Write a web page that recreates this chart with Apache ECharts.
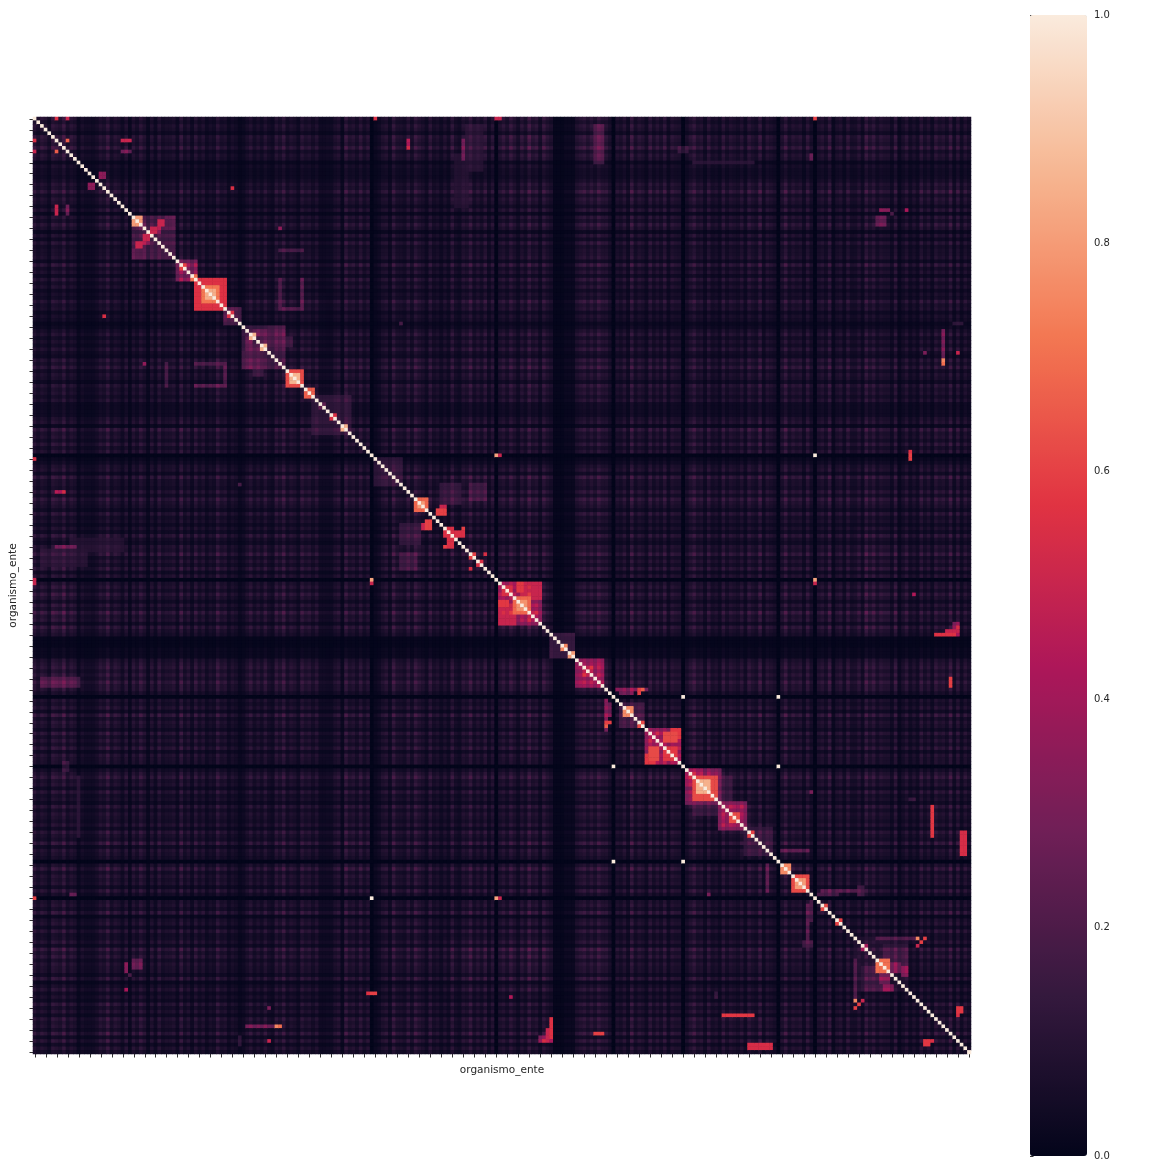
<!DOCTYPE html>
<html><head><meta charset="utf-8">
<style>html,body{margin:0;padding:0;background:#fff}#c{width:1172px;height:1165px;filter:blur(0.6px)}</style>
<script src="https://cdn.jsdelivr.net/npm/echarts@6/dist/echarts.min.js"></script>
</head><body><div id="c"></div>
<script>
const N = 256;
const organismos = Array.from({length:N},(_,i)=>String(i));
const axisName = 'organismo_ente';
const colorTicks = [0,0.2,0.4,0.6,0.8,1];
const rocket = ['#03051a','#35193e','#701f57','#ad1759','#e13342','#f37651','#f6b48f','#faebdd'];

// Brightness of each row/column (0 black stripe ... 9 bright)
const stripeLevels = [
 '6465376584652433','3465846536264752','6374556384637463','5485635423574647',
 '4375846537564633','3356285647460235','6385547486537453','5374365846473605',
 '6475364856375411','1222567575866405','4638465374647365','5046856374537465',
 '4637548365405846','5637405648256374','4638574655372463','5374637564837364'];

// Background level (hundredths) per 16-cell region, lower triangle
const regionLevels = [
 [12],[10,11],[9,9,10],[8,8,9,9],[9,9,9,10,10],[10,10,10,9,10,10],[10,9,9,9,10,10,10],
 [11,10,10,10,10,10,11,11],[13,11,10,10,11,10,11,11,12],[11,11,10,10,10,9,10,10,11,11],
 [11,11,10,9,10,10,10,10,11,10,11],[10,10,9,9,9,10,10,10,10,10,11,11],
 [10,11,10,9,10,11,10,10,11,10,11,10,11],[10,10,9,9,10,10,10,10,11,10,10,10,10,10],
 [11,10,10,9,10,10,10,12,13,11,10,10,10,10,11],[10,11,9,9,9,10,10,10,10,10,10,10,10,10,10,10]];

// Square clusters on the diagonal: [first, last, value]
const clusters = [
 [27,38,.2],[27,29,.8],[39,44,.34],[40,41,.6],[43,44,.7],
 [44,52,.56],[46,50,.72],[47,49,.84],[52,56,.26],[53,54,.55],
 [57,68,.18],[59,60,.85],[62,63,.85],[69,73,.62],[70,72,.86],[74,76,.66],
 [76,86,.16],[78,79,.35],[81,82,.55],[84,85,.85],[93,100,.16],[104,107,.68],[105,106,.8],
 [112,114,.55],[119,120,.6],[121,122,.55],[127,138,.44],[131,135,.68],[132,134,.78],
 [141,147,.24],[144,145,.75],[146,147,.8],[148,155,.36],[150,152,.46],
 [160,166,.2],[161,163,.76],[165,166,.62],[167,176,.46],[172,175,.58],[178,187,.38],
 [180,186,.62],[181,184,.85],[187,194,.42],[190,192,.62],[194,201,.17],[195,196,.6],
 [204,206,.76],[207,211,.62],[208,210,.8],[215,216,.62],[219,220,.6],[232,233,.55],
 [226,227,.45],[230,233,.7],[224,238,.1]];

// Off-diagonal rectangles, mirrored: [col0, col1, row0, row1, value]
const patches = [
 [24,26,6,6,.5],[24,26,9,9,.36],[6,6,24,25,.42],[9,9,24,25,.38],
 [15,16,18,19,.45],[28,38,30,30,.26],[30,31,33,34,.45],[32,33,30,31,.5],[28,29,34,35,.5],
 [36,38,27,28,.26],[67,67,44,52,.22],[73,73,44,52,.22],[67,73,52,52,.22],[67,73,36,36,.2],
 [57,60,64,68,.24],[62,68,58,62,.24],
 [60,62,69,70,.18],[110,112,107,108,.6],[106,107,111,112,.5],[113,114,115,117,.55],[112,112,117,117,.6],
 [100,105,111,116,.17],[119,123,100,104,.18],[128,130,128,130,.55],[133,138,127,131,.5],
 [134,138,128,129,.45],[127,129,132,133,.58],
 [159,167,156,156,.36],[166,166,156,156,.66],[156,157,165,165,.6],[156,157,160,163,.34],
 [168,170,172,175,.62],[167,169,174,176,.58],[180,186,188,190,.16],
 [204,211,200,200,.24],[215,224,211,211,.22],[212,212,214,219,.22],[210,212,225,226,.22],
 [232,238,227,232,.2],[237,238,232,234,.42],[234,236,231,233,.36],[226,228,232,238,.16],
 [230,240,224,224,.26],[241,241,224,224,.76],[242,242,225,225,.6],
 [252,253,243,244,.58],[243,245,252,252,.55],[253,253,200,200,.55],
 [245,245,188,195,.58],[189,196,245,245,.58],[253,254,195,201,.54],
 [249,252,140,140,.5],[138,141,251,252,.44],[141,141,246,251,.56],[153,155,250,250,.6],
 [58,66,248,248,.3],[66,67,248,248,.7],[64,64,243,243,.4],[64,64,252,252,.5],
 [25,25,238,238,.4],[26,26,234,234,.3],[27,29,230,232,.28],[231,233,25,25,.34],
 [239,239,91,91,.56],[251,253,56,56,.18],[92,93,239,239,.6],[130,130,240,240,.42],
 [10,24,115,118,.12],[2,14,118,122,.13],
 [2,12,153,155,.22],[102,102,6,8,.4],[117,117,6,11,.28],[180,196,12,12,.16],
 [176,178,8,9,.18],[212,212,10,11,.3],[19,19,54,54,.55],[54,54,19,19,.55],[67,67,30,30,.4],
 [100,100,56,56,.26],[178,182,178,179,.44],[212,212,184,184,.32],
 [239,240,186,186,.18],[60,62,58,59,.28]];

// Isolated strong pairs: [col, row, value]
const hotCells = [
 [9,6,.66],[0,6,.55],[0,9,.5],[93,0,.55],[126,0,.5],[127,0,.5],[213,0,.6],
 [92,213,1],[92,126,.82],[126,213,.82],[126,92,.82],[213,92,1],[127,92,.5],[127,213,.5],
 [158,177,1],[158,203,1],[177,203,1],[248,66,.75],
 [243,224,.6],[226,241,.5],[123,119,.55]];

const stripe = stripeLevels.join('').split('').map(d=>+d/5);
const cells = new Float32Array(N*N);
const put=(i,j,v)=>{cells[i*N+j]=Math.max(cells[i*N+j],v);cells[j*N+i]=Math.max(cells[j*N+i],v);};
for(let i=0;i<N;i++)for(let j=0;j<=i;j++){
  const a=i>>4,b=j>>4,r=regionLevels[Math.max(a,b)][Math.min(a,b)]/100;
  put(i,j,r*.62*Math.pow(stripe[i]*stripe[j],1.2));
}
const tex=(i,j,v)=>v>=.5?v:v*(.55+.35*stripe[i]*stripe[j]);
clusters.forEach(([a,b,v])=>{for(let i=a;i<=b;i++)for(let j=a;j<=b;j++)put(i,j,tex(i,j,v));});
patches.forEach(([c0,c1,r0,r1,v])=>{for(let i=c0;i<=c1;i++)for(let j=r0;j<=r1;j++)put(i,j,tex(i,j,v));});
hotCells.forEach(([i,j,v])=>put(i,j,v));
for(let i=0;i<N;i++)cells[i*N+i]=1;
const data=[];
for(let i=0;i<N;i++)for(let j=0;j<N;j++)data.push([i,j,+cells[i*N+j].toFixed(3)]);

const chart=echarts.init(document.getElementById('c'),null,{renderer:'canvas'});
const txt={fontFamily:'DejaVu Sans',fontSize:10.5,color:'#262626'};
const ticks={show:true,alignWithLabel:true,interval:2,length:3.5,lineStyle:{color:'#333',width:1}};
chart.setOption({
 animation:false,backgroundColor:'#fff',
 grid:[{left:33,top:117,width:938,height:937,show:true,backgroundColor:'#03051a',borderWidth:0},
       {left:1030,top:15,width:57,height:1141,show:false}],
 xAxis:[{type:'category',data:organismos,gridIndex:0,position:'bottom',name:axisName,nameLocation:'middle',nameGap:11,nameTextStyle:txt,
         axisLine:{show:false},axisTick:ticks,axisLabel:{show:false},splitLine:{show:false}},
        {type:'value',gridIndex:1,show:false,min:0,max:1}],
 yAxis:[{type:'category',data:organismos,gridIndex:0,inverse:true,name:axisName,nameLocation:'middle',nameGap:14,nameTextStyle:txt,
         axisLine:{show:false},axisTick:ticks,axisLabel:{show:false},splitLine:{show:false}},
        {type:'value',gridIndex:1,position:'right',min:0,max:1,interval:colorTicks[1],
         axisLine:{show:false},axisTick:{show:true,length:3.5,lineStyle:{color:'#333'}},splitLine:{show:false},
         axisLabel:{...txt,fontSize:10,margin:7,formatter:v=>v.toFixed(1)}}],
 visualMap:{type:'continuous',seriesIndex:0,min:0,max:1,left:1030,top:15,itemWidth:57,itemHeight:1141,padding:0,
   calculable:false,text:null,showLabel:false,hoverLink:false,inRange:{color:rocket},textStyle:{color:'transparent',fontSize:1}},
 series:[{type:'heatmap',data:data,xAxisIndex:0,yAxisIndex:0,progressive:0,animation:false,silent:true,
   emphasis:{disabled:true},itemStyle:{borderWidth:0}}]
});
</script></body></html>
